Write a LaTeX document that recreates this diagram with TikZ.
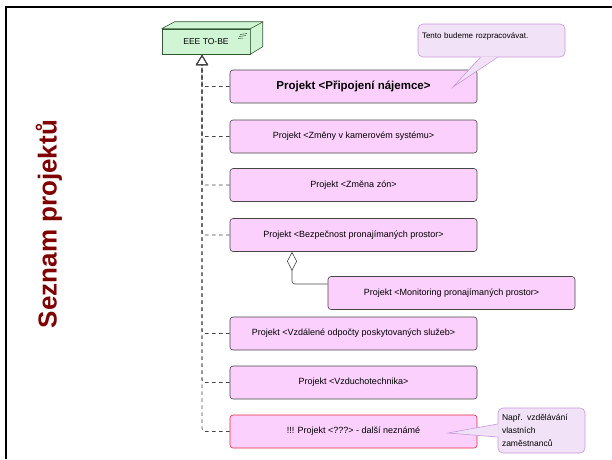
\documentclass[tikz,border=0pt]{standalone}
\usepackage{fontspec}
\setmainfont{Liberation Sans}
\usetikzlibrary{arrows.meta, positioning, calc}

\definecolor{projfill}{RGB}{252,208,252}
\definecolor{projline}{RGB}{70,70,70}
\definecolor{tobefill}{RGB}{208,245,212}
\definecolor{tobeline}{RGB}{50,90,50}
\definecolor{notefill}{RGB}{242,226,248}
\definecolor{noteline}{RGB}{200,150,222}
\definecolor{titlered}{RGB}{128,0,0}
\definecolor{unknownred}{RGB}{230,40,60}

\tikzset{
  proj/.style={draw=projline, fill=projfill, rounded corners=3pt, line width=0.6pt,
    minimum width=247pt, minimum height=33pt, font=\fontsize{9}{11}\selectfont},
  projmain/.style={proj, font=\fontsize{11.5}{13}\selectfont\bfseries},
  projunknown/.style={proj, draw=unknownred},
  tobebox/.style={draw=tobeline, fill=tobefill, line width=0.6pt},
  note/.style={draw=noteline, fill=notefill, rounded corners=5pt, line width=0.6pt,
    align=left, inner sep=4pt},
  realize/.style={draw=projline, line width=0.6pt, dash pattern=on 3.5pt off 3.5pt,
    rounded corners=3pt, -{Triangle[open, length=10pt, width=12pt]}},
  agg/.style={draw=projline, line width=0.6pt, rounded corners=3pt,
    -{Diamond[open, length=19pt, width=10pt]}}
}

\begin{document}
\begin{tikzpicture}[x=1pt, y=-1pt]
        \useasboundingbox (0,0) rectangle (612,459);
        \draw[line width=2pt] (6,459) -- (6,7) -- (612,7);

        \node[rotate=90, text=titlered, font=\fontsize{26}{30}\selectfont\bfseries] (seznam) at (49,224) {Seznam projektů};

        % EEE TO-BE node
        \node[tobebox, minimum width=88pt, minimum height=25pt, inner sep=0pt, font=\fontsize{8.5}{10}\selectfont] (tobe) at (206,41.5) {EEE TO-BE};
        \draw[tobebox, line join=round] (tobe.north west) -- ++(13,-7) -- ++(88,0) -- ++(0,25) -- (tobe.south east) -- (tobe.north east) -- cycle;
        \draw[tobeline, line width=0.6pt] (tobe.north east) -- ++(13,-7);
        \draw[tobeline, line width=0.5pt] (240,34.5) -- (247,33.5) (239,36.5) -- (246,35.5) (238,38.5) -- (243,38);
        \coordinate (tip) at (202,55);

        \node[projmain] (p1) at (353.5,86.5) {Projekt <Připojení nájemce>};
        \node[proj] (p2) at (353.5,136.5) {Projekt <Změny v kamerovém systému>};
        \node[proj] (p3) at (353.5,185) {Projekt <Změna zón>};
        \node[proj] (p4) at (353.5,235) {Projekt <Bezpečnost pronajímaných prostor>};
        \node[proj] (p5) at (451.5,293) {Projekt <Monitoring pronajímaných prostor>};
        \node[proj] (p6) at (353.5,333.5) {Projekt <Vzdálené odpočty poskytovaných služeb>};
        \node[proj] (p7) at (353.5,382.5) {Projekt <Vzduchotechnika>};
        \node[projunknown] (p8) at (353.5,431.5) {!!! Projekt <???> - další neznámé};

        \foreach \p in {p1,p2,p3,p4,p6,p7,p8}
            \draw[realize] (\p.west) -| (tip);
        \draw[agg] ([yshift=9pt]p5.west) -| ([xshift=-61.5pt]p4.south);

        % notes
        \node[note, text width=139pt, text height=10pt, text depth=15pt, font=\fontsize{8}{10}\selectfont] (note1) at (491.5,40.5) {Tento budeme rozpracovávat.};
        \coordinate (tip1) at (453,87);
        \fill[notefill] ([xshift=-11pt, yshift=0.8pt]note1.south) -- (tip1) -- ([xshift=6pt, yshift=0.8pt]note1.south) -- cycle;
        \draw[noteline, line width=0.6pt] ([xshift=-11pt]note1.south) -- (tip1) -- ([xshift=6pt]note1.south);

        \node[note, text width=79pt, minimum height=45pt, font=\fontsize{8.5}{13}\selectfont] (note2) at (541.5,430.5) {Např. vzdělávání\\vlastních\\zaměstnanců};
        \coordinate (tip2) at (448,433);
        \fill[notefill] ([xshift=0.8pt, yshift=6.5pt]note2.west) -- (tip2) -- ([xshift=0.8pt, yshift=-6.5pt]note2.west) -- cycle;
        \draw[noteline, line width=0.6pt] ([yshift=6.5pt]note2.west) -- (tip2) -- ([yshift=-6.5pt]note2.west);
    \end{tikzpicture}
\end{document}
